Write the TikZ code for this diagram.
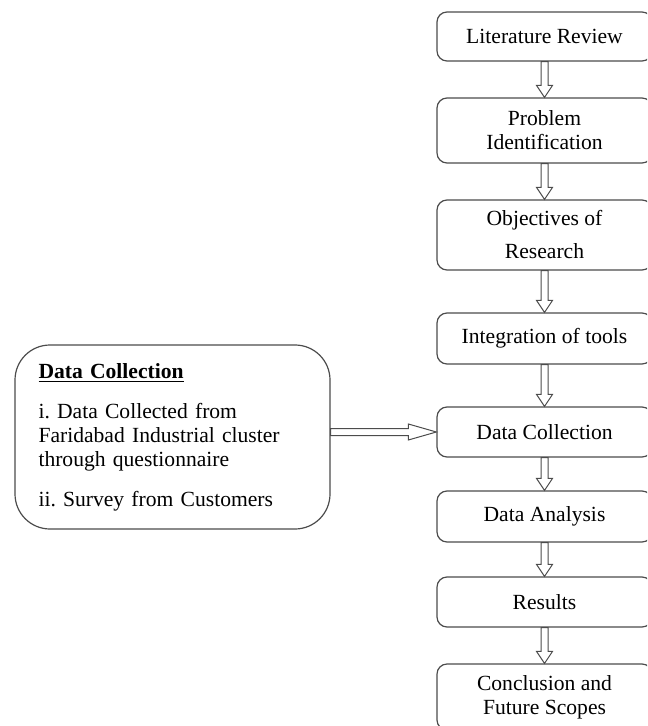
\documentclass[tikz,border=0pt]{standalone}
\usepackage{fontspec}
\setmainfont{Liberation Serif}
\usetikzlibrary{calc}
\frenchspacing

\begin{document}
\begin{tikzpicture}[
        x=0.5pt, y=-0.5pt,
        font=\fontsize{10.8}{12}\selectfont,
        box/.style={draw=black!70, line width=0.6pt, rounded corners=5pt,
            minimum width=107.5pt, align=center, inner sep=2pt},
        sidebox/.style={draw=black!70, line width=0.6pt, rounded corners=17.5pt,
            minimum width=157.5pt, minimum height=92pt, text width=134pt, align=left},
        hollow/.style={draw=black!70, line width=0.5pt, to path={
            ($(\tikztostart)!1.75pt!90:(\tikztotarget)$)
            -- ($(\tikztotarget)!#1!(\tikztostart)!1.75pt!-90:(\tikztostart)$)
            -- ($(\tikztotarget)!#1!(\tikztostart)!4pt!-90:(\tikztostart)$)
            -- (\tikztotarget)
            -- ($(\tikztotarget)!#1!(\tikztostart)!4pt!90:(\tikztostart)$)
            -- ($(\tikztotarget)!#1!(\tikztostart)!1.75pt!90:(\tikztostart)$)
            -- ($(\tikztostart)!1.75pt!-90:(\tikztotarget)$)
            -- cycle}},
        hollow/.default=6pt
    ]
    % page size
    \useasboundingbox (0,0) rectangle (647,726);
    \clip (0,0) rectangle (647,726);

    % main steps
    \node[box, minimum height=24.5pt] (lit) at (544.5,36.5) {Literature Review};
    \node[box, minimum height=32.5pt] (prob) at (544.5,130.5) {Problem\\Identification};
    \node[box, minimum height=35pt] (obj) at (544.5,235) {Objectives of\\[4.5pt]Research};
    \node[box, minimum height=25.5pt] (integ) at (544.5,338.5) {Integration of tools};
    \node[box, minimum height=25pt] (coll) at (544.5,432) {Data Collection};
    \node[box, minimum height=25.5pt] (anal) at (544.5,516.5) {Data Analysis};
    \node[box, minimum height=25pt] (res) at (544.5,602) {Results};
    \node[box, minimum height=33pt] (concl) at (544.5,697) {Conclusion and\\Future Scopes};

    % side note
    \node[sidebox] (side) at (172.5,437) {\underline{\textbf{Data Collection}}\\[8pt]
        i. Data Collected from\\Faridabad Industrial cluster\\through questionnaire\\[8pt]
        ii. Survey from Customers};

    % arrows
    \foreach \a/\b in {lit/prob, prob/obj, obj/integ, integ/coll, coll/anal, anal/res, res/concl}
        \draw[hollow] (\a.south) to (\b.north);
    \draw[hollow=14pt] (side.east |- coll.west) to (coll.west);
\end{tikzpicture}
\end{document}
